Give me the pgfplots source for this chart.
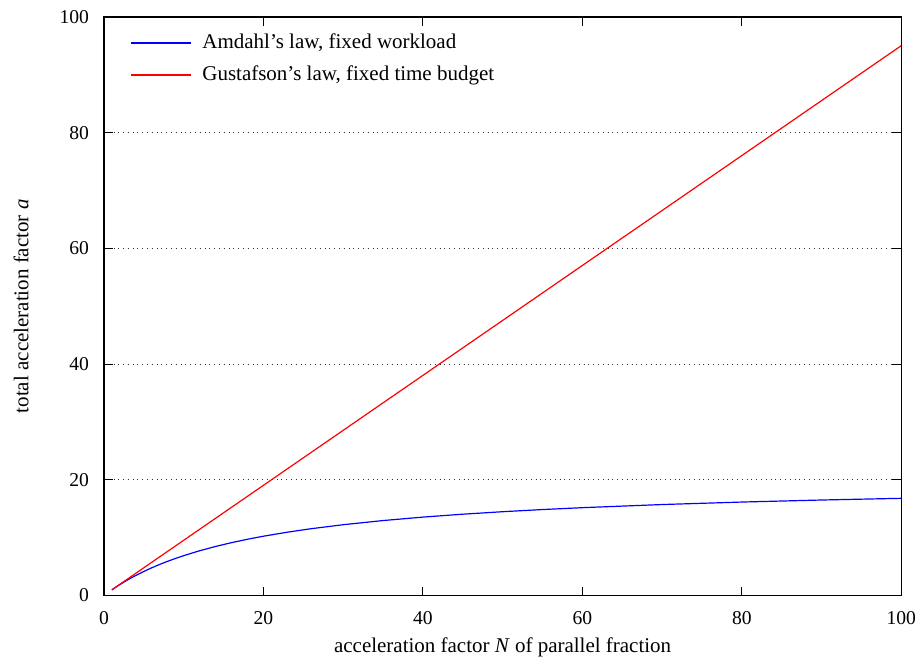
\documentclass[border=0pt]{standalone}
\usepackage{pgfplots}
\pgfplotsset{compat=1.18}
\usepackage{fontspec}
\setmainfont{Liberation Serif}
\begin{document}
\fontsize{10.5}{12.6}\selectfont
\begin{tikzpicture}
\begin{axis}[
  name=ax,
  scale only axis,
  width=399pt, height=289.5pt,
  xmin=0, xmax=100, ymin=0, ymax=100,
  xtick={0,20,40,60,80,100},
  ytick={0,20,40,60,80,100},
  tick align=inside,
  major tick length=4.5pt,
  tick style={black, line width=0.6pt},
  axis line style={line width=0.6pt},
  ymajorgrids,
  grid style={black!80, dotted, line width=0.5pt},
  /pgf/number format/assume math mode=true,
  ticklabel style={font=\fontsize{9.8}{11.8}\selectfont},
  xticklabel style={yshift=-4.5pt},
  yticklabel style={xshift=-3.8pt},
  xlabel={acceleration factor \textit{N} of parallel fraction},
  ylabel={total acceleration factor \textit{a}},
  xlabel style={at={(axis description cs:0.5,-0.0898)}, anchor=center},
  ylabel style={at={(axis description cs:-0.104,0.5)}, anchor=center},
  label style={font=\fontsize{10.5}{12.6}\selectfont},
  legend style={draw=none, fill=none, at={(axis description cs:0.025,0.985)}, anchor=north west,
    font=\fontsize{10.5}{12.6}\selectfont, row sep=3pt,
    /tikz/every odd column/.append style={column sep=3.5pt}},
  legend cell align=left,
  legend image code/.code={\draw[#1] (0pt,0pt) -- (30pt,0pt);},
]
\addplot[color=blue, line width=0.6pt] coordinates {
(1,1) (2,1.9048) (3,2.7273) (4,3.4783) (5,4.1667) (6,4.8) (7,5.3846) (8,5.9259)
(9,6.4286) (10,6.8966) (12,7.7419) (14,8.4848) (16,9.1429) (18,9.7297)
(20,10.2564) (23,10.9524) (26,11.5556) (30,12.2449) (35,12.9630) (40,13.5593)
(45,14.0625) (50,14.4928) (55,14.8649) (60,15.1899) (70,15.7303) (80,16.1616)
(90,16.5138) (100,16.8067)
};
\addlegendentry{Amdahl’s law, fixed workload}
\addplot[color=red, line width=0.6pt] coordinates {(1,1) (100,95.05)};
\addlegendentry{Gustafson’s law, fixed time budget}
\end{axis}
\path (ax.south west) ++(-52pt,-33pt);
\path (ax.north east) ++(10.5pt,8.5pt);
\end{tikzpicture}
\end{document}
